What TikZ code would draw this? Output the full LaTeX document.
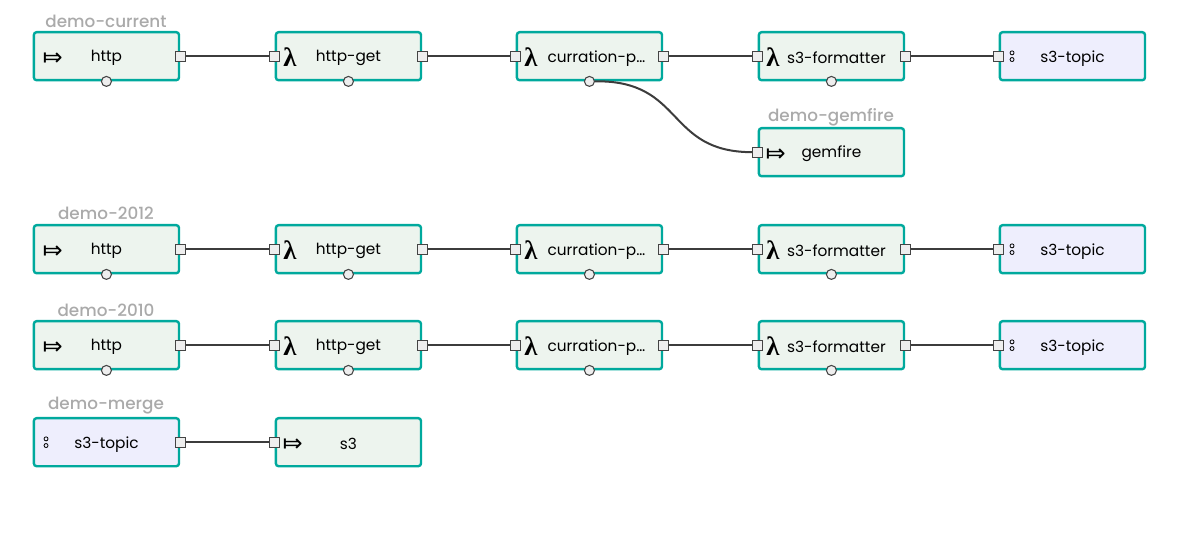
\documentclass[tikz,border=0pt]{standalone}
\usepackage{fontspec}
\setmainfont{Poppins}
\newfontfamily\labelfont{Poppins Medium}
\newfontfamily\iconfont{DejaVu Sans}
\newfontfamily\lambfont{Liberation Serif}
\definecolor{boxteal}{HTML}{00A99D}
\definecolor{procfill}{HTML}{EDF4EE}
\definecolor{topicfill}{HTML}{EEEEFD}
\definecolor{portfill}{HTML}{EEEEEE}
\definecolor{portline}{HTML}{444444}
\definecolor{wireline}{HTML}{3C3C3C}
\definecolor{streamgray}{HTML}{AAAAAA}
\tikzset{
  module/.style={draw=boxteal,line width=1.8pt,rounded corners=2pt,minimum width=108.8pt,minimum height=36pt,inner sep=0pt},
  proc/.style={module,fill=procfill},
  topic/.style={module,fill=topicfill},
  port/.style={draw=portline,fill=portfill,line width=.9pt,minimum size=7.5pt,inner sep=0pt},
  tap/.style={circle,draw=portline,fill=portfill,line width=.8pt,minimum size=7.5pt,inner sep=0pt},
  wire/.style={draw=wireline,line width=1.5pt},
  streamlabel/.style={text=streamgray,font=\labelfont\fontsize{12.6}{14}\selectfont,inner sep=0pt},
  namelabel/.style={text=black,font=\fontsize{11.5}{13}\selectfont,inner sep=0pt},
  icon/.style={text=black,inner sep=0pt},
  dotmark/.style={circle,draw=black,line width=.6pt,minimum size=3pt,inner sep=0pt},
}
\begin{document}
\begin{tikzpicture}[x=.75pt,y=-.75pt]
  \useasboundingbox (0,0) rectangle (1204,552);
  % #1 name, #2 style, #3 left, #4 top
  \def\modulebox#1#2#3#4{\node[#2,anchor=north west] (#1) at (#3-1.3,#4-1) {};}
  \def\inport#1{\node[port] (#1-in) at (#1.west) {};}
  \def\outport#1{\node[port] (#1-out) at (#1.east) {};}
  \def\tapat#1{\node[tap] (#1-tap) at (#1.south) {};}
  \def\nameat#1#2#3{\node[namelabel] (#1-name) at ([xshift=#2*.75pt,yshift=-1.5pt]#1.center) {#3};}
  \def\lamb#1{\node[icon,font=\lambfont\bfseries\fontsize{20}{20}\selectfont] (#1-icon) at ([xshift=11.5pt,yshift=-.5pt]#1-in.center) {λ};}
  \def\mapsymb#1#2{\node[icon,font=\iconfont\fontsize{18}{18}\selectfont] (#1-icon) at ([xshift=#2*.75pt,yshift=-2pt]#1.west) {⤇};}
  \def\topicdots#1{
    \node[dotmark] (#1-dota) at ([xshift=10pt,yshift=2.5pt]#1.west) {};
    \node[dotmark] (#1-dotb) at ([xshift=10pt,yshift=-2.5pt]#1.west) {};
  }
  % demo-current
  \node[streamlabel] (current) at (106,21) {demo-current};
  \modulebox{chttp}{proc}{34}{32}
  \modulebox{cget}{proc}{276}{32}
  \modulebox{ccur}{proc}{517}{32}
  \modulebox{cfmt}{proc}{759}{32}
  \modulebox{ctopic}{topic}{1000}{32}
  % demo-gemfire
  \node[streamlabel] (gemfirelabel) at (831,117) {demo-gemfire};
  \modulebox{gem}{proc}{759}{128}
  % demo-2012
  \node[streamlabel] (yeartwelve) at (106,213) {demo-2012};
  \modulebox{ahttp}{proc}{34}{225}
  \modulebox{aget}{proc}{276}{225}
  \modulebox{acur}{proc}{517}{225}
  \modulebox{afmt}{proc}{759}{225}
  \modulebox{atopic}{topic}{1000}{225}
  % demo-2010
  \node[streamlabel] (yearten) at (106,310) {demo-2010};
  \modulebox{bhttp}{proc}{34}{321}
  \modulebox{bget}{proc}{276}{321}
  \modulebox{bcur}{proc}{517}{321}
  \modulebox{bfmt}{proc}{759}{321}
  \modulebox{btopic}{topic}{1000}{321}
  % demo-merge
  \node[streamlabel] (merge) at (106,406) {demo-merge};
  \modulebox{mtopic}{topic}{34}{418}
  \modulebox{msink}{proc}{276}{418}
  % ports
  \outport{chttp} \inport{cget} \outport{cget} \inport{ccur} \outport{ccur}
  \inport{cfmt} \outport{cfmt} \inport{ctopic} \inport{gem}
  \outport{ahttp} \inport{aget} \outport{aget} \inport{acur} \outport{acur}
  \inport{afmt} \outport{afmt} \inport{atopic}
  \outport{bhttp} \inport{bget} \outport{bget} \inport{bcur} \outport{bcur}
  \inport{bfmt} \outport{bfmt} \inport{btopic}
  \outport{mtopic} \inport{msink}
  % taps
  \tapat{chttp} \tapat{cget} \tapat{ccur} \tapat{cfmt}
  \tapat{ahttp} \tapat{aget} \tapat{acur} \tapat{afmt}
  \tapat{bhttp} \tapat{bget} \tapat{bcur} \tapat{bfmt}
  % icons and names
  \mapsymb{chttp}{20} \nameat{chttp}{0}{http}
  \lamb{cget} \nameat{cget}{0}{http-get}
  \lamb{ccur} \nameat{ccur}{7}{curration-p…}
  \lamb{cfmt} \nameat{cfmt}{5}{s3-formatter}
  \topicdots{ctopic} \nameat{ctopic}{0}{s3-topic}
  \mapsymb{gem}{18} \nameat{gem}{0}{gemfire}
  \mapsymb{ahttp}{20} \nameat{ahttp}{0}{http}
  \lamb{aget} \nameat{aget}{0}{http-get}
  \lamb{acur} \nameat{acur}{7}{curration-p…}
  \lamb{afmt} \nameat{afmt}{5}{s3-formatter}
  \topicdots{atopic} \nameat{atopic}{0}{s3-topic}
  \mapsymb{bhttp}{20} \nameat{bhttp}{0}{http}
  \lamb{bget} \nameat{bget}{0}{http-get}
  \lamb{bcur} \nameat{bcur}{7}{curration-p…}
  \lamb{bfmt} \nameat{bfmt}{5}{s3-formatter}
  \topicdots{btopic} \nameat{btopic}{0}{s3-topic}
  \topicdots{mtopic} \nameat{mtopic}{0}{s3-topic}
  \mapsymb{msink}{18} \nameat{msink}{0}{s3}
  % wires
  \draw[wire] (chttp-out) -- (cget-in);
  \draw[wire] (cget-out) -- (ccur-in);
  \draw[wire] (ccur-out) -- (cfmt-in);
  \draw[wire] (cfmt-out) -- (ctopic-in);
  \draw[wire] (ccur-tap) .. controls (685,80) and (665,152) .. (gem-in);
  \draw[wire] (ahttp-out) -- (aget-in);
  \draw[wire] (aget-out) -- (acur-in);
  \draw[wire] (acur-out) -- (afmt-in);
  \draw[wire] (afmt-out) -- (atopic-in);
  \draw[wire] (bhttp-out) -- (bget-in);
  \draw[wire] (bget-out) -- (bcur-in);
  \draw[wire] (bcur-out) -- (bfmt-in);
  \draw[wire] (bfmt-out) -- (btopic-in);
  \draw[wire] (mtopic-out) -- (msink-in);
\end{tikzpicture}
\end{document}
